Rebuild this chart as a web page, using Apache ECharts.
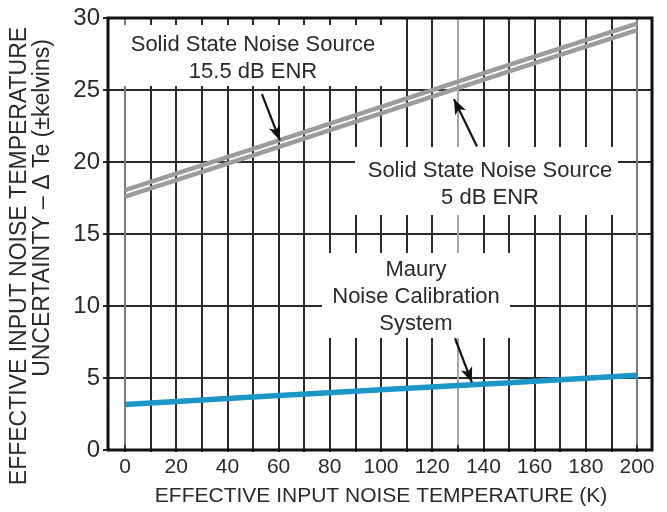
<!DOCTYPE html>
<html>
<head>
<meta charset="utf-8">
<script src="https://cdn.jsdelivr.net/npm/echarts@6/dist/echarts.min.js"></script>
<style>html,body{margin:0;padding:0;background:#fff;}#c{width:667px;height:512px;}</style>
</head>
<body>
<div id="c"></div>
<script>
// ---- data ----
var temps = [0, 50, 100, 150, 200];                 // effective input noise temperature (K)
var enr155 = [17.9, 20.8, 23.75, 26.7, 29.6];      // Solid State Noise Source 15.5 dB ENR
var enr5 = [17.45, 20.35, 23.3, 26.25, 29.15];     // Solid State Noise Source 5 dB ENR
var maury = [2.85, 3.37, 3.88, 4.38, 4.9];         // Maury Noise Calibration System
var xTicks = [0, 20, 40, 60, 80, 100, 120, 140, 160, 180, 200];
var yTicks = [0, 5, 10, 15, 20, 25, 30];

function pairs(xs, ys) { return xs.map(function (x, i) { return [x, ys[i]]; }); }

var FONT = '"Liberation Sans", Arial, Helvetica, sans-serif';
var TXT = '#2a2a2a';

// vertical grid line colours (one per 10 K line)
var vColors = [];
for (var i = 0; i <= 20; i++) {
  vColors.push(i === 0 || i === 20 ? '#7a7a7a' : (i === 13 ? '#a8a8a8' : '#2b2b2b'));
}

var chart = echarts.init(document.getElementById('c'), null, {renderer: 'canvas'});
var option = {
  backgroundColor: '#ffffff',
  animation: false,
  grid: [
    {left: 125, right: 30, top: 18, bottom: 62, show: false},
    {left: 108, right: 15, top: 18, bottom: 62, show: true, borderColor: '#111', borderWidth: 3, backgroundColor: 'transparent', z: 5}
  ],
  xAxis: [
    {
      type: 'value', gridIndex: 0, min: 0, max: 200, interval: 10,
      axisLine: {show: false},
      axisTick: {show: true, inside: false, length: 7, lineStyle: {color: '#2b2b2b', width: 2}},
      axisLabel: {
        margin: 12, fontSize: 21, color: TXT, fontFamily: FONT,
        formatter: function (v) { return xTicks.indexOf(v) >= 0 ? String(v) : ''; }
      },
      splitLine: {show: true, lineStyle: {color: vColors, width: 2}},
      name: 'EFFECTIVE INPUT NOISE TEMPERATURE (K)', nameLocation: 'middle', nameGap: 41,
      nameTextStyle: {fontSize: 21, color: TXT, fontFamily: FONT}
    },
    {type: 'value', gridIndex: 1, min: 0, max: 1, show: false}
  ],
  yAxis: [
    {type: 'value', gridIndex: 0, min: 0, max: 30, show: false, splitLine: {show: false}},
    {
      type: 'value', gridIndex: 1, min: 0, max: 30, interval: 5,
      axisLine: {show: false},
      axisTick: {show: true, length: 5, lineStyle: {color: '#2b2b2b', width: 2}},
      axisLabel: {
        margin: 8, fontSize: 24, color: TXT, fontFamily: FONT,
        formatter: function (v) { return yTicks.indexOf(v) >= 0 ? String(v) : ''; }
      },
      splitLine: {show: true, lineStyle: {color: '#2b2b2b', width: 2}}
    }
  ],
  graphic: [
    // white boxes that interrupt the grid behind the annotations
    {type: 'rect', z: 1, shape: {x: 112, y: 25, width: 280, height: 61}, style: {fill: '#fff'}},
    {type: 'rect', z: 1, shape: {x: 355, y: 147, width: 263, height: 68}, style: {fill: '#fff'}},
    {type: 'rect', z: 1, shape: {x: 322, y: 253, width: 188, height: 85}, style: {fill: '#fff'}},
    {type: 'text', z: 2, x: 253, y: 58, style: {text: 'Solid State Noise Source\n15.5 dB ENR', fontSize: 22, lineHeight: 27, fontFamily: FONT, fill: TXT, align: 'center', verticalAlign: 'middle'}},
    {type: 'text', z: 2, x: 490, y: 184, style: {text: 'Solid State Noise Source\n5 dB ENR', fontSize: 22, lineHeight: 27, fontFamily: FONT, fill: TXT, align: 'center', verticalAlign: 'middle'}},
    {type: 'text', z: 2, x: 416, y: 297, style: {text: 'Maury\nNoise Calibration\nSystem', fontSize: 22, lineHeight: 27, fontFamily: FONT, fill: TXT, align: 'center', verticalAlign: 'middle'}},
    // y-axis title (two rotated lines)
    {type: 'text', z: 2, x: 20, y: 256, rotation: Math.PI / 2, style: {text: 'EFFECTIVE INPUT NOISE TEMPERATURE', fontSize: 23, fontFamily: FONT, fill: TXT, align: 'center', verticalAlign: 'middle'}},
    {type: 'text', z: 2, x: 43, y: 208, rotation: Math.PI / 2, style: {text: 'UNCERTAINTY \u2013 \u0394 Te (\u00b1kelvins)', fontSize: 23, fontFamily: FONT, fill: TXT, align: 'center', verticalAlign: 'middle'}}
  ],
  series: [
    {
      name: '15.5 dB ENR', type: 'line', xAxisIndex: 0, yAxisIndex: 0, z: 3,
      data: pairs(temps, enr155), showSymbol: false, symbol: 'none',
      lineStyle: {color: '#9c9c9c', width: 4.5}
    },
    {
      name: '5 dB ENR', type: 'line', xAxisIndex: 0, yAxisIndex: 0, z: 3,
      data: pairs(temps, enr5), showSymbol: false, symbol: 'none',
      lineStyle: {color: '#9c9c9c', width: 4.5}
    },
    {
      name: 'Maury', type: 'line', xAxisIndex: 0, yAxisIndex: 0, z: 3,
      data: pairs(temps, maury), showSymbol: false, symbol: 'none',
      lineStyle: {color: '#1a97c6', width: 5.5},
      markLine: {
        silent: true, symbol: ['none', 'arrow'], symbolSize: [9, 15],
        label: {show: false},
        lineStyle: {color: '#111', width: 2.2, type: 'solid'},
        data: [
          [{coord: [53.5, 24.65]}, {coord: [60.5, 21.4]}],
          [{coord: [137.5, 20.97]}, {coord: [128.5, 24.3]}],
          [{coord: [128.9, 7.5]}, {coord: [135.5, 4.4]}]
        ]
      }
    }
  ]
};
chart.setOption(option);
</script>
</body>
</html>
